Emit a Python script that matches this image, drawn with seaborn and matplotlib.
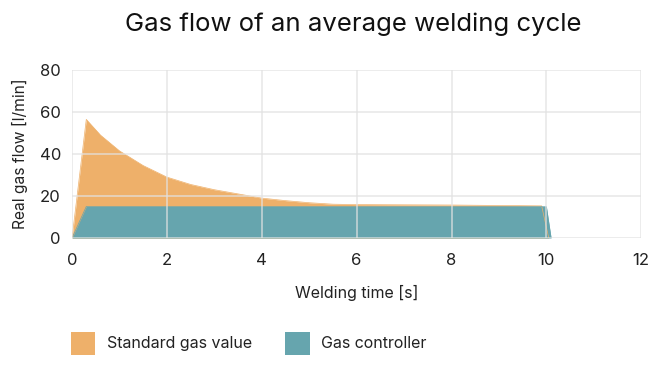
import numpy as np
import pandas as pd
import seaborn as sns
import matplotlib.pyplot as plt
from matplotlib.patches import Patch

# データ
time_std = [0.0, 0.3, 0.6, 1.0, 1.5, 2.0, 2.5, 3.0, 3.5, 4.0, 4.5, 5.0, 5.5, 6.0, 8.0, 9.9, 10.05]
flow_std = [0.0, 56.5, 49.0, 41.5, 34.5, 29.0, 25.5, 23.0, 21.0, 19.0, 17.8, 16.8, 16.1, 15.9, 15.7, 15.3, 0.0]

time_ctrl = [0.0, 0.3, 10.0, 10.1]
flow_ctrl = [0.0, 15.0, 15.0, 0.0]

labels = ["Standard gas value", "Gas controller"]
colors = ["#EEB06A", "#66A5AE"]

sns.set_style("white")
plt.rcParams['font.family'] = ['Inter', 'DejaVu Sans']

df_std = pd.DataFrame({"t": time_std, "flow": flow_std})
df_ctrl = pd.DataFrame({"t": time_ctrl, "flow": flow_ctrl})

fig = plt.figure(figsize=(6.55, 3.65), dpi=100)
ax = fig.add_axes([0.110, 0.348, 0.869, 0.460])

# 面グラフ
sns.lineplot(data=df_std, x="t", y="flow", ax=ax, color=colors[0], linewidth=0.5)
ax.fill_between(df_std["t"], df_std["flow"], color=colors[0], linewidth=0)
sns.lineplot(data=df_ctrl, x="t", y="flow", ax=ax, color=colors[1], linewidth=0.5)
ax.fill_between(df_ctrl["t"], df_ctrl["flow"], color=colors[1], linewidth=0)

ax.set_xlim(0, 12)
ax.set_ylim(0, 80)
ax.set_xticks(range(0, 13, 2))
ax.set_yticks(range(0, 81, 20))
ax.grid(True, color="#e2e2e2", linewidth=1.2, alpha=0.75)
ax.set_axisbelow(False)
for s in ax.spines.values():
    s.set_visible(False)
ax.tick_params(axis="both", length=0, labelsize=12, colors="#222222")
ax.tick_params(axis="x", pad=11)
ax.tick_params(axis="y", pad=8)

ax.set_xlabel("Welding time [s]", fontsize=11.5, color="#222222", labelpad=12)
ax.set_ylabel("Real gas flow [l/min]", fontsize=11.2, color="#222222", labelpad=8)

fig.suptitle("Gas flow of an average welding cycle", fontsize=18.5, x=0.539, y=0.965, color="#111111")

handles = [Patch(facecolor=c, edgecolor="none") for c in colors]
fig.legend(handles, labels, loc="lower left", bbox_to_anchor=(0.108, 0.028), ncol=2,
           frameon=False, fontsize=11.5, handlelength=1.55, handleheight=1.85,
           handletextpad=0.7, columnspacing=2.1, borderpad=0, borderaxespad=0,
           labelcolor="#222222")

plt.savefig("out.png", dpi=100)
plt.close()
